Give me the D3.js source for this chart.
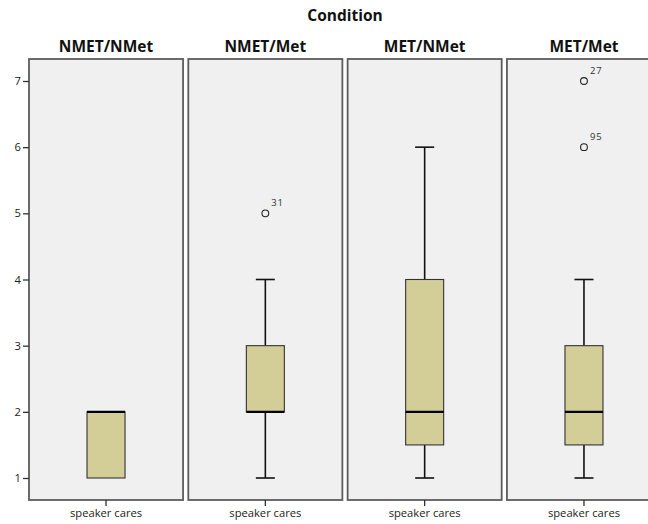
<!DOCTYPE html>
<html>
<head>
<meta charset="utf-8">
<script src="https://cdn.jsdelivr.net/npm/d3@7"></script>
<style>
  html, body { margin: 0; padding: 0; background: #ffffff; }
  svg { display: block; }
  text { font-family: "Open Sans", "DejaVu Sans", sans-serif; }
</style>
</head>
<body>
<svg id="chart" width="648" height="524"></svg>
<script>
// Panels (one per condition)
const conditions = ["NMET/NMet", "NMET/Met", "MET/NMet", "MET/Met"];
const variable = "speaker cares";

// Box summaries per condition: whisker low, Q1, median, Q3, whisker high
const whiskerLow  = [1,   1, 1,   1];
const q1          = [1,   2, 1.5, 1.5];
const median      = [2,   2, 2,   2];
const q3          = [2,   3, 4,   3];
const whiskerHigh = [2,   4, 6,   4];

// Outliers: panel index, value, case label
const outlierPanel = [1, 3, 3];
const outlierValue = [5, 6, 7];
const outlierCase  = ["31", "95", "27"];

const yTicks = [1, 2, 3, 4, 5, 6, 7];

const svg = d3.select("#chart");

const plotTop = 59, plotBottom = 500;
const panelX = d3.scaleBand()
  .domain(conditions)
  .range([29, 661])
  .paddingInner(0.033)
  .paddingOuter(0);

const y = d3.scaleLinear().domain([1, 7]).range([478, 81]);

// Overall title
svg.append("text")
  .attr("x", 345).attr("y", 21)
  .attr("text-anchor", "middle")
  .style("font-size", "15.5px").style("font-weight", "bold")
  .attr("fill", "#111")
  .text("Condition");

conditions.forEach((c, i) => {
  const x0 = panelX(c), w = panelX.bandwidth();
  const g = svg.append("g");

  // Panel background and frame
  g.append("rect")
    .attr("x", x0).attr("y", plotTop)
    .attr("width", w).attr("height", plotBottom - plotTop)
    .attr("fill", "#f0f0f0")
    .attr("stroke", "#5c5c5c").attr("stroke-width", 1.8);

  // Panel header
  g.append("text")
    .attr("x", x0 + w / 2).attr("y", 52)
    .attr("text-anchor", "middle")
    .style("font-size", "15.5px").style("font-weight", "bold")
    .attr("fill", "#111")
    .text(c);

  // Category axis inside each panel
  const xb = d3.scaleBand().domain([variable]).range([x0, x0 + w]);
  const xAxis = d3.axisBottom(xb).tickSize(6).tickPadding(3);
  const ax = g.append("g")
    .attr("transform", `translate(0,${plotBottom})`)
    .call(xAxis);
  ax.select(".domain").remove();
  ax.selectAll(".tick line").attr("stroke", "#333").attr("stroke-width", 1.3);
  ax.selectAll(".tick text")
    .style("font-size", "11.2px")
    .style("font-family", "'Open Sans', sans-serif")
    .attr("fill", "#222");

  const cx = xb(variable) + xb.bandwidth() / 2;
  const bw = 38, capW = 19;

  // Whiskers
  if (whiskerHigh[i] > q3[i]) {
    g.append("line").attr("x1", cx).attr("x2", cx)
      .attr("y1", y(q3[i])).attr("y2", y(whiskerHigh[i]))
      .attr("stroke", "#111").attr("stroke-width", 1.6);
    g.append("line").attr("x1", cx - capW / 2).attr("x2", cx + capW / 2)
      .attr("y1", y(whiskerHigh[i])).attr("y2", y(whiskerHigh[i]))
      .attr("stroke", "#111").attr("stroke-width", 1.6);
  }
  if (whiskerLow[i] < q1[i]) {
    g.append("line").attr("x1", cx).attr("x2", cx)
      .attr("y1", y(q1[i])).attr("y2", y(whiskerLow[i]))
      .attr("stroke", "#111").attr("stroke-width", 1.6);
    g.append("line").attr("x1", cx - capW / 2).attr("x2", cx + capW / 2)
      .attr("y1", y(whiskerLow[i])).attr("y2", y(whiskerLow[i]))
      .attr("stroke", "#111").attr("stroke-width", 1.6);
  }

  // Box
  g.append("rect")
    .attr("x", cx - bw / 2).attr("y", y(q3[i]))
    .attr("width", bw).attr("height", y(q1[i]) - y(q3[i]))
    .attr("fill", "#d3ce98")
    .attr("stroke", "#333").attr("stroke-width", 1.1);

  // Median
  g.append("line")
    .attr("x1", cx - bw / 2).attr("x2", cx + bw / 2)
    .attr("y1", y(median[i])).attr("y2", y(median[i]))
    .attr("stroke", "#000").attr("stroke-width", 2.2);

  // Outliers
  outlierPanel.forEach((p, k) => {
    if (p !== i) return;
    g.append("circle")
      .attr("cx", cx).attr("cy", y(outlierValue[k])).attr("r", 3.4)
      .attr("fill", "none").attr("stroke", "#222").attr("stroke-width", 1.1);
    g.append("text")
      .attr("x", cx + 6).attr("y", y(outlierValue[k]) - 7)
      .style("font-size", "9.5px").style("letter-spacing", "0.8px")
      .attr("fill", "#333")
      .text(outlierCase[k]);
  });

  // Value axis on the first panel only
  if (i === 0) {
    const yAxis = d3.axisLeft(y).tickValues(yTicks).tickFormat(d3.format("d"))
      .tickSize(6).tickPadding(2);
    const ay = svg.append("g")
      .attr("transform", `translate(${x0},0)`)
      .call(yAxis);
    ay.select(".domain").remove();
    ay.selectAll(".tick line").attr("stroke", "#333").attr("stroke-width", 1.3);
    ay.selectAll(".tick text")
      .style("font-size", "11.2px")
      .style("font-family", "'Open Sans', sans-serif")
      .attr("fill", "#222");
  }
});
</script>
</body>
</html>
